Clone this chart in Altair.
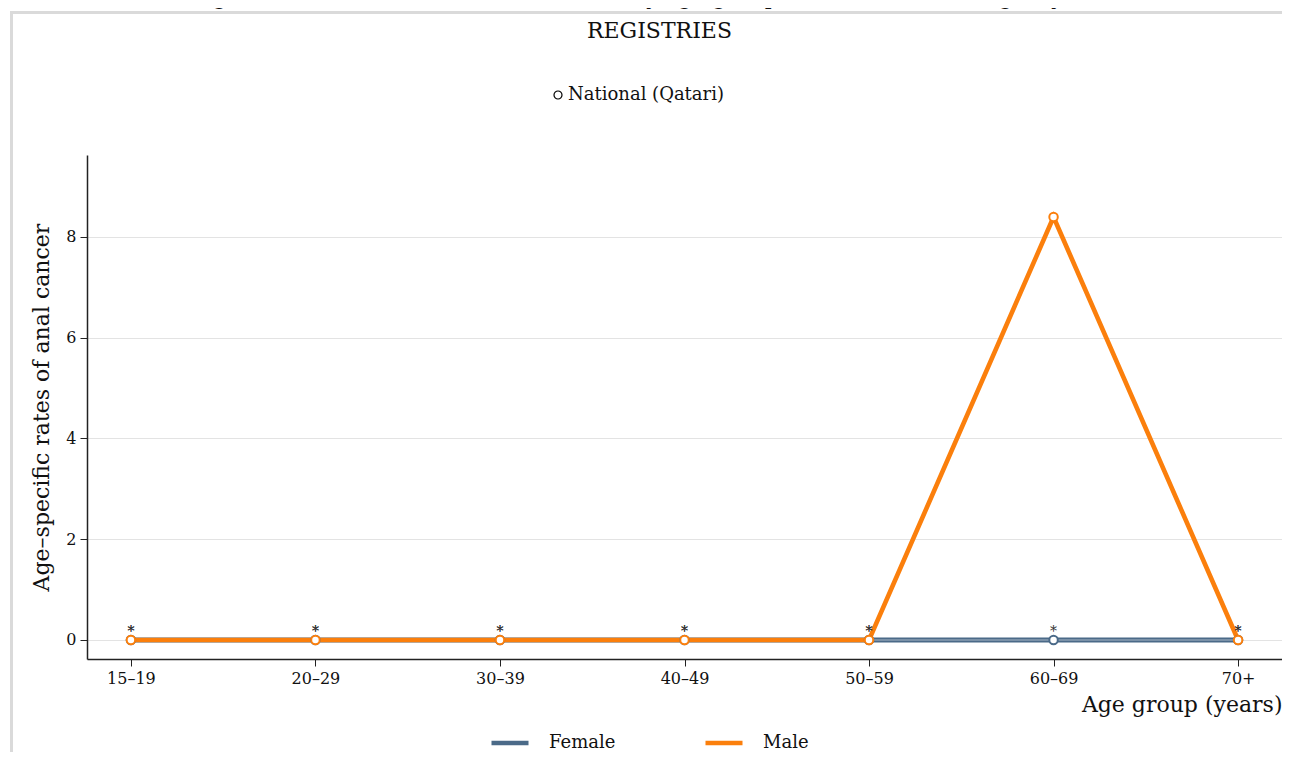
import altair as alt
import pandas as pd

# ---- data ----
age_groups = ["15–19", "20–29", "30–39", "40–49", "50–59", "60–69", "70+"]
female_rates = [0, 0, 0, 0, 0, 0, 0]
male_rates = [0, 0, 0, 0, 0, 8.39, 0]
female_star = [True, True, True, True, True, True, True]
male_star = [True, True, True, True, True, False, True]
sexes = ["Female", "Male"]
sex_colors = ["#4b6a88", "#fb7f0c"]
population_label = "National (Qatari)"
title_line1 = "Figure 16: Anal cancer incidence rates by age group in Qatar (cancer registry data)"
title_line2 = "REGISTRIES"
y_ticks = [0, 2, 4, 6, 8]

rows = []
for sex, rates, stars in [("Female", female_rates, female_star), ("Male", male_rates, male_star)]:
    for a, r, st in zip(age_groups, rates, stars):
        rows.append({"age": a, "sex": sex, "rate": r, "star": "*" if st else "", "pop": population_label})
df = pd.DataFrame(rows)

FONT = "DejaVu Serif"

x = alt.X("age:N", sort=age_groups,
          scale=alt.Scale(type="point", domain=age_groups, padding=0.238),
          axis=alt.Axis(title="Age group (years)", labelAngle=0, titleAnchor="end",
                        titleAlign="right", titlePadding=8, grid=False))
y = alt.Y("rate:Q", scale=alt.Scale(domain=[-0.377, 9.62], nice=False, zero=False),
          axis=alt.Axis(values=y_ticks, title="Age–specific rates of anal cancer",
                        grid=True, titlePadding=12))
color = alt.Color("sex:N", scale=alt.Scale(domain=sexes, range=sex_colors),
                  legend=alt.Legend(orient="none", legendX=402, legendY=567,
                                    direction="horizontal", title=None,
                                    symbolType="stroke", symbolSize=1369,
                                    symbolStrokeWidth=4.5, labelFontSize=18,
                                    labelFont=FONT, labelColor="#111",
                                    columnPadding=80, labelOffset=18))

base = alt.Chart(df)

female_line = base.transform_filter("datum.sex == 'Female'").mark_line(strokeWidth=5).encode(x=x, y=y, color=color)
female_inner = base.transform_filter("datum.sex == 'Female'").mark_line(strokeWidth=1.2, color="#a9b8c7").encode(x=x, y=y)
male_line = base.transform_filter("datum.sex == 'Male'").mark_line(strokeWidth=4.6).encode(x=x, y=y, color=color)

points = base.mark_point(filled=False, fill="white", size=72, strokeWidth=2, opacity=1).encode(
    x=x, y=y, color=color)

# legend-only layer for the population marker (no rows drawn)
pop_legend = base.transform_filter("false").mark_point(
    filled=False, color="black", size=64, strokeWidth=1.2, opacity=1).encode(
    x=x, y=y,
    shape=alt.Shape("pop:N", scale=alt.Scale(domain=[population_label], range=["circle"]),
                    legend=alt.Legend(orient="none", legendX=462, legendY=-69, title=None,
                                      symbolSize=64, symbolStrokeWidth=1.2,
                                      labelFontSize=18, labelFont=FONT, labelColor="#111",
                                      labelOffset=1)))

stars = base.transform_filter("datum.star != ''").mark_text(
    dy=-8, fontSize=14, font=FONT, color="#333").encode(x=x, y=y, text="star:N")

frame_df = pd.DataFrame({"k": [0]})
frame_left = alt.Chart(frame_df).mark_rule(color="#dadada", strokeWidth=3).encode(
    x=alt.value(-75.5), y=alt.value(-142.5), y2=alt.value(700))
frame_top = alt.Chart(frame_df).mark_rule(color="#dadada", strokeWidth=3).encode(
    x=alt.value(-77), x2=alt.value(1300), y=alt.value(-142.5))

chart = alt.layer(frame_left, frame_top, female_line, female_inner, male_line, points, pop_legend, stars).properties(
    width=1195, height=504,
    autosize=alt.AutoSizeParams(type="none"),
    padding={"left": 79, "top": 147, "right": 0, "bottom": 93},
    title=alt.Title(text=[title_line1, title_line2], font=FONT, fontSize=22,
                    fontWeight="normal", anchor="middle", dx=-25, dy=42, lineHeight=34,
                    color="#111", offset=10),
).configure_view(stroke=None).configure_axis(
    domainColor="#222", domainWidth=1.5, tickColor="#222", tickSize=7,
    labelFont=FONT, labelFontSize=16, labelColor="#111", labelPadding=4,
    titleFont=FONT, titleFontSize=22, titleFontWeight="normal", titleColor="#111",
    gridColor="#e3e3e3", gridWidth=1,
)

chart.save("out.html", embed_options={"renderer": "svg", "actions": False})
